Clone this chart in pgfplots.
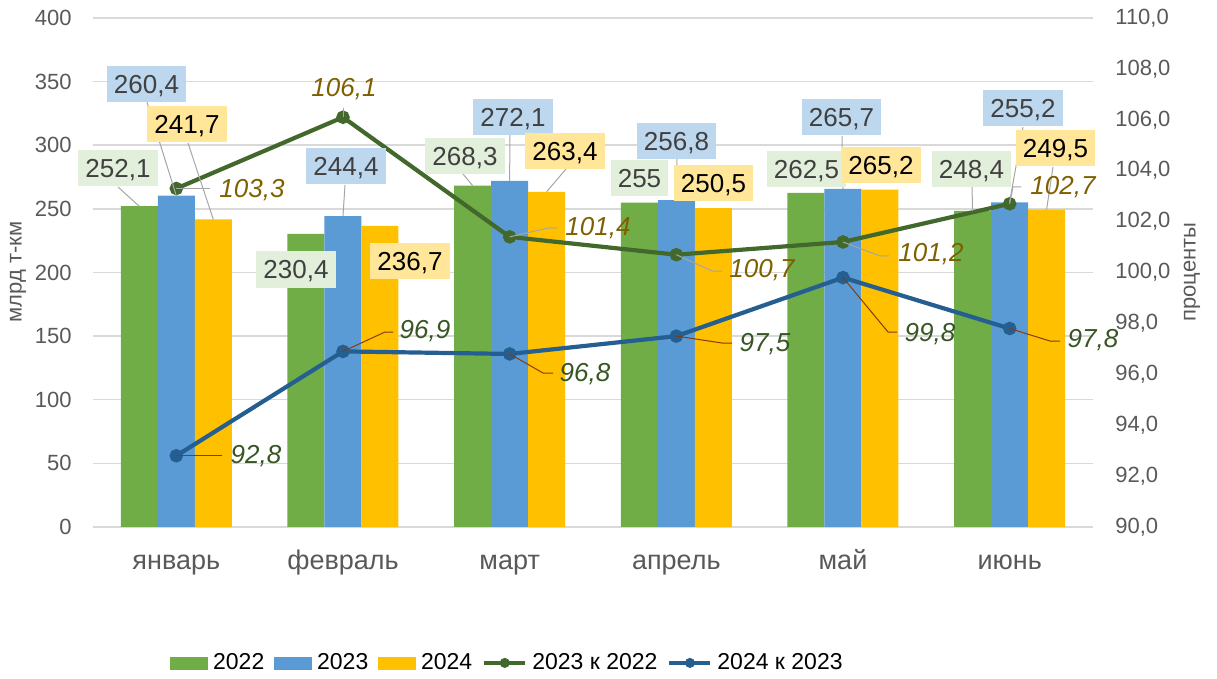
\documentclass[border=0pt]{standalone}
\usepackage{fontspec}
\setmainfont{Liberation Sans}
\usepackage{pgfplots}
\pgfplotsset{compat=1.18}
\definecolor{c22}{HTML}{70AD47}
\definecolor{c23}{HTML}{5B9BD5}
\definecolor{c24}{HTML}{FFC000}
\definecolor{l1}{HTML}{43682B}
\definecolor{l2}{HTML}{255E91}
\definecolor{b22}{HTML}{E2EFDA}
\definecolor{b23}{HTML}{BDD7EE}
\definecolor{b24}{HTML}{FFE699}
\definecolor{t1}{HTML}{7F6000}
\definecolor{t2}{HTML}{375623}
\definecolor{lead}{HTML}{A6A6A6}
\definecolor{leadb}{HTML}{843C0C}
\definecolor{gridc}{HTML}{D9D9D9}
\definecolor{tickc}{HTML}{595959}
\definecolor{dtext}{HTML}{404040}
\tikzset{
 px/.style={x=0.5pt,y=-0.5pt,shift={(-46.5pt,263.5pt)}},
 boxlab/.style={font=\fontsize{13}{15}\selectfont, inner xsep=3.5pt, inner ysep=0pt, minimum height=18pt, text height=9.4pt, text depth=0pt},
 lg/.style={boxlab, fill=b22, text=dtext},
 lb/.style={boxlab, fill=b23, text=dtext},
 ly/.style={boxlab, fill=b24, text=black},
 pa/.style={font=\fontsize{13}{15}\selectfont\itshape, text=t1, inner sep=0pt},
 pb/.style={font=\fontsize{13}{15}\selectfont\itshape, text=t2, inner sep=0pt},
 ld/.style={draw=lead, line width=0.5pt},
 ldb/.style={draw=leadb, line width=0.5pt},
}
\begin{document}
\begin{tikzpicture}
\begin{scope}[px]
\path[use as bounding box] (0,0) rectangle (1217,677);
\end{scope}
\begin{axis}[
 at={(0,0)}, anchor=south west, scale only axis, width=500pt, height=254.5pt,
 xmin=-0.5, xmax=5.5, ymin=0, ymax=400, ytick={0,50,...,400},
 xtick={0,1,2,3,4,5}, xticklabels={январь,февраль,март,апрель,май,июнь},
 ybar=0pt, bar width=0.222,
 axis line style={draw=none}, major tick length=0pt,
 ymajorgrids, grid style={draw=gridc, line width=0.75pt},
 /pgf/number format/assume math mode=true,
 yticklabel style={font=\fontsize{11}{13}\selectfont, text=tickc, anchor=east, inner xsep=0pt, xshift=-10.5pt},
 xticklabel style={font=\fontsize{13.5}{15}\selectfont, text=tickc, anchor=base, yshift=-21pt},
 clip=false,
]
\addplot[fill=c22, draw=none] coordinates {(0,252.1) (1,230.4) (2,268.3) (3,255) (4,262.5) (5,248.4)};
\addplot[fill=c23, draw=none] coordinates {(0,260.4) (1,244.4) (2,272.1) (3,256.8) (4,265.7) (5,255.2)};
\addplot[fill=c24, draw=none] coordinates {(0,241.7) (1,236.7) (2,263.4) (3,250.5) (4,265.2) (5,249.5)};
\end{axis}
\begin{axis}[
 at={(0,0)}, anchor=south west, scale only axis, width=500pt, height=254.5pt,
 xmin=-0.5, xmax=5.5, ymin=90, ymax=110, ytick={90,92,...,110},
 axis y line*=right, hide x axis, axis line style={draw=none}, major tick length=0pt,
 /pgf/number format/.cd, assume math mode=true, fixed, fixed zerofill, precision=1, use comma, /pgfplots/.cd,
 yticklabel style={font=\fontsize{11}{13}\selectfont, text=tickc, anchor=west, inner xsep=0pt, xshift=11pt},
 clip=false,
 legend style={at={(0.4135,-0.267)}, anchor=center, draw=none, fill=none, legend columns=5,
   font=\fontsize{11.5}{13}\selectfont, nodes={inner xsep=0pt, inner ysep=1pt},
   /tikz/every odd column/.append style={column sep=2.5pt},
   /tikz/every even column/.append style={column sep=5pt}},
]
\addlegendimage{legend image code/.code={\fill[c22] (0pt,-3pt) rectangle (18.5pt,3pt);}}
\addlegendimage{legend image code/.code={\fill[c23] (0pt,-3pt) rectangle (18.5pt,3pt);}}
\addlegendimage{legend image code/.code={\fill[c24] (0pt,-3pt) rectangle (18.5pt,3pt);}}
\addlegendimage{legend image code/.code={\draw[l1,line width=2pt] (0pt,0pt)--(20.5pt,0pt); \fill[l1] (10.25pt,0pt) circle (2.3pt);}}
\addlegendimage{legend image code/.code={\draw[l2,line width=2pt] (0pt,0pt)--(20.5pt,0pt); \fill[l2] (10.25pt,0pt) circle (2.3pt);}}
\addplot[forget plot, l1, line width=2.1pt, mark=*, mark size=2.3pt, mark options={fill=l1}] coordinates {(0,103.3) (1,106.1) (2,101.4) (3,100.7) (4,101.2) (5,102.7)};
\addplot[forget plot, l2, line width=2.1pt, mark=*, mark size=2.3pt, mark options={fill=l2}] coordinates {(0,92.8) (1,96.9) (2,96.8) (3,97.5) (4,99.8) (5,97.8)};
\legend{2022,2023,2024,2023 к 2022,2024 к 2023}
\end{axis}
\begin{scope}[px]
% axis titles
\node[rotate=90, font=\fontsize{11}{13}\selectfont, text=tickc] at (18,272) {млрд т-км};
\node[rotate=90, font=\fontsize{11}{13}\selectfont, text=tickc] at (1192,272) {проценты};
% leaders for bar labels
\draw[ld] (118,187)--(139,206);
\draw[ld] (147,102)--(176.3,195.6);
\draw[ld] (188,143)--(213.3,219.4);
\draw[ld] (345,185)--(343,216);
\draw[ld] (463,174)--(472.6,185.6);
\draw[ld] (510,135)--(509.6,180.8);
\draw[ld] (566,169)--(546.6,191.8);
\draw[ld] (677,159)--(676.3,200.2);
\draw[ld] (842,136)--(843,188.9);
\draw[ld] (972,187)--(972.6,211);
\draw[ld] (1023,127)--(1009.6,202.3);
\draw[ld] (1053,167)--(1046.6,209.5);
% leaders for line labels
\draw[ld] (176.3,188.5)--(210,188.5);
\draw[ld] (343,108)--(343,117.3);
\draw[ld] (509.6,236.9)--(548,228)--(557,228);
\draw[ld] (676.3,254.7)--(712,271)--(722,271);
\draw[ld] (843,242)--(880,256)--(889,256);
\draw[ld] (1009.6,203.8)--(1013,187)--(1021,187);
\draw[ldb] (176.3,455.7)--(222,455.7);
\draw[ldb] (343,351.4)--(385,332)--(393,332);
\draw[ldb] (509.6,353.9)--(543,373)--(553,373);
\draw[ldb] (676.3,336.1)--(722,343)--(732,343);
\draw[ldb] (843,277.6)--(888,332)--(897,332);
\draw[ldb] (1009.6,328.5)--(1050,341)--(1060,341);
% bar labels
\node[lg] at (118,168.5) {252,1};
\node[lb] at (146.5,84) {260,4};
\node[ly] at (187,124.5) {241,7};
\node[lg] at (296,269.5) {230,4};
\node[lb] at (346,166.5) {244,4};
\node[ly] at (410,261) {236,7};
\node[lg] at (465,156) {268,3};
\node[lb] at (513,117) {272,1};
\node[ly] at (565,151) {263,4};
\node[lg] at (639.5,178.5) {255};
\node[lb] at (676.5,141) {256,8};
\node[ly] at (713.5,183.5) {250,5};
\node[lg] at (806.5,169) {262,5};
\node[lb] at (841.5,117.5) {265,7};
\node[ly] at (881,165) {265,2};
\node[lg] at (971.5,169) {248,4};
\node[lb] at (1023,108.5) {255,2};
\node[ly] at (1055.5,148.5) {249,5};
% line labels
\node[pa] at (252,190) {103,3};
\node[pa] at (344,89) {106,1};
\node[pa] at (598,228) {101,4};
\node[pa] at (762,270) {100,7};
\node[pa] at (931,254) {101,2};
\node[pa] at (1063,187) {102,7};
\node[pb] at (256,456) {92,8};
\node[pb] at (425,331) {96,9};
\node[pb] at (585,374) {96,8};
\node[pb] at (765,344) {97,5};
\node[pb] at (930,334) {99,8};
\node[pb] at (1093,340) {97,8};
\end{scope}
\end{tikzpicture}
\end{document}
